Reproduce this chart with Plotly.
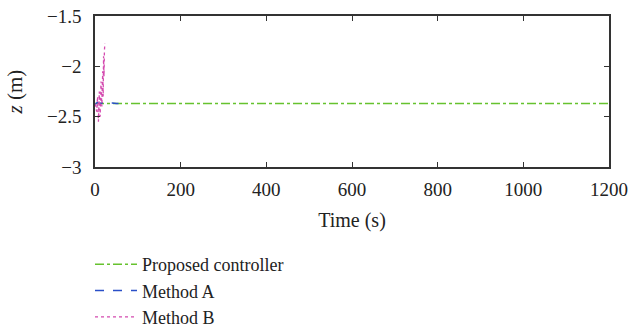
import plotly.graph_objects as go

# Proposed controller (green, dash-dot)
t_prop = [0, 50, 100, 150, 200, 250, 300, 350, 400, 450, 500, 550, 600, 650, 700,
          750, 800, 850, 900, 950, 1000, 1050, 1100, 1150, 1200]
z_prop = [-2.37, -2.37, -2.37, -2.365, -2.37, -2.37, -2.37, -2.37, -2.37, -2.37,
          -2.37, -2.37, -2.365, -2.37, -2.37, -2.37, -2.37, -2.37, -2.37, -2.37,
          -2.37, -2.37, -2.37, -2.37, -2.37]

# Method A (blue, dashed)
t_a = [0, 5, 10, 20, 30, 40, 50, 55]
z_a = [-2.38, -2.36, -2.37, -2.36, -2.37, -2.365, -2.37, -2.37]

# Method B (magenta, dotted)
t_b = [0, 4, 6, 8, 10, 12, 14, 16, 18, 19, 20, 21, 22, 23]
z_b = [-2.37, -2.45, -2.30, -2.55, -2.25, -2.50, -2.15, -2.40, -2.05, -2.30, -1.90, -2.10, -1.85, -1.77]

# Axis ticks
x_ticks = [0, 200, 400, 600, 800, 1000, 1200]
y_ticks = [-3, -2.5, -2, -1.5]
y_tick_text = ["\u22123", "\u22122.5", "\u22122", "\u22121.5"]

font = "Liberation Serif"
txt = "#222"

fig = go.Figure()
fig.add_trace(go.Scatter(x=t_prop, y=z_prop, mode="lines", name="Proposed controller",
                         line=dict(color="#66c22e", width=1.5, dash="dashdot")))
fig.add_trace(go.Scatter(x=t_a, y=z_a, mode="lines", name="Method A",
                         line=dict(color="#2a4fc8", width=1.5, dash="dash")))
fig.add_trace(go.Scatter(x=t_b, y=z_b, mode="lines", name="Method B",
                         line=dict(color="#d44aaf", width=1.3, dash="dot")))

axis_common = dict(showline=True, linecolor="#333", linewidth=1.5, mirror="ticks",
                   ticks="inside", ticklen=5, tickcolor="#333", showgrid=False,
                   zeroline=False, tickfont=dict(family=font, size=19, color=txt))

fig.update_xaxes(range=[0, 1200], tickvals=x_ticks, ticklabelstandoff=4,
                 title=dict(text="Time (s)", font=dict(family=font, size=20, color=txt), standoff=14),
                 **axis_common)
fig.update_yaxes(range=[-3, -1.5], tickvals=y_ticks, ticktext=y_tick_text, ticklabelstandoff=8,
                 title=dict(text="<i>z</i> (m)", font=dict(family=font, size=21, color=txt), standoff=19),
                 **axis_common)

fig.update_layout(
    width=630, height=330,
    margin=dict(l=95, r=21, t=16, b=163, autoexpand=False),
    plot_bgcolor="white", paper_bgcolor="white",
    showlegend=True,
    legend=dict(x=-5 / 514, y=-0.523, xanchor="left", yanchor="top",
                font=dict(family=font, size=18, color=txt),
                bgcolor="rgba(0,0,0,0)", tracegroupgap=0, itemwidth=42),
)

fig.write_html("out.html")
